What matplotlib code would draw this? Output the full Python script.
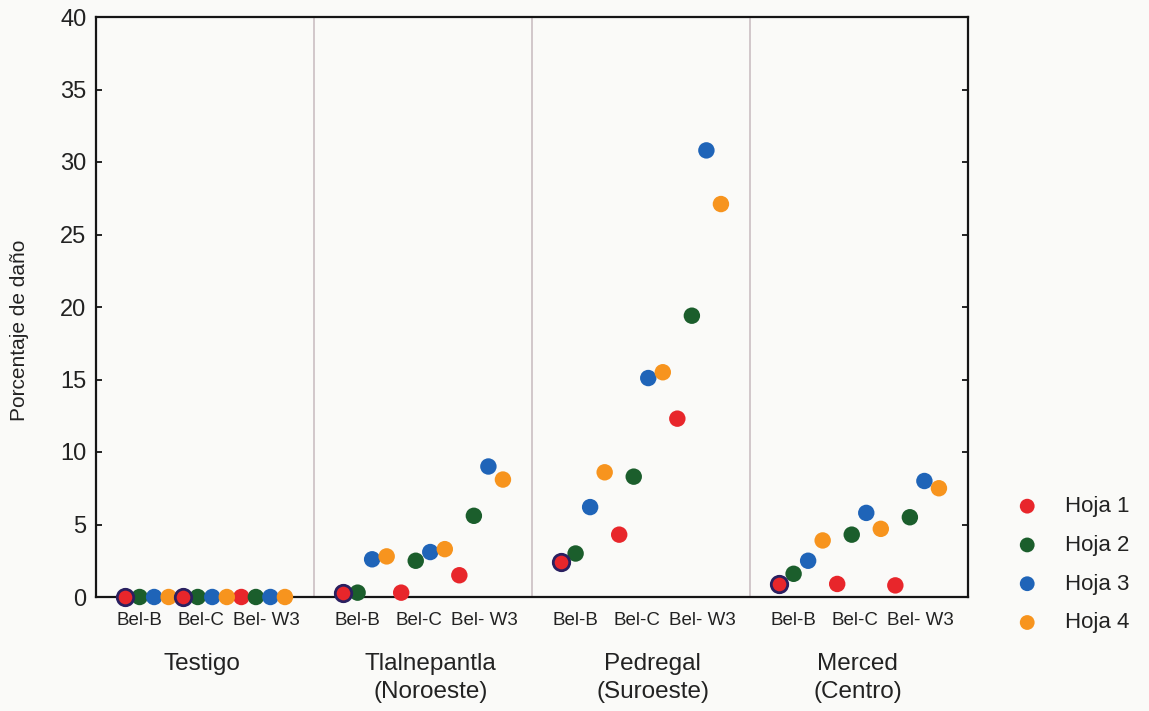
import matplotlib
matplotlib.use("Agg")
import matplotlib.pyplot as plt
import numpy as np

plt.rcParams['font.family'] = ['Liberation Sans', 'DejaVu Sans']

groups = ["Testigo", "Tlalnepantla\n(Noroeste)", "Pedregal\n(Suroeste)", "Merced\n(Centro)"]
cultivars = ["Bel-B", "Bel-C", "Bel- W3"]
leaves = ["Hoja 1", "Hoja 2", "Hoja 3", "Hoja 4"]
yticks = [0, 5, 10, 15, 20, 25, 30, 35, 40]

# values[leaf][group][cultivar]
hoja1 = [[0.0, 0.0, 0.0], [0.3, 0.3, 1.5], [2.4, 4.3, 12.3], [0.9, 0.9, 0.8]]
hoja2 = [[0.0, 0.0, 0.0], [0.3, 2.5, 5.6], [3.0, 8.3, 19.4], [1.6, 4.3, 5.5]]
hoja3 = [[0.0, 0.0, 0.0], [2.6, 3.1, 9.0], [6.2, 15.1, 30.8], [2.5, 5.8, 8.0]]
hoja4 = [[0.0, 0.0, 0.0], [2.8, 3.3, 8.1], [8.6, 15.5, 27.1], [3.9, 4.7, 7.5]]
series = [hoja1, hoja2, hoja3, hoja4]
colors = ["#e8262b", "#1b5e2c", "#1f64b8", "#f7941e"]

W, H = 1149, 711
fig = plt.figure(figsize=(W / 100, H / 100), dpi=100)
fig.patch.set_facecolor("#fafaf8")
ax = fig.add_axes([96 / W, 1 - 597 / H, (968 - 96) / W, (597 - 17) / H])
ax.set_facecolor("#fafaf8")

MS = 140
GW = 15  # group width in x units
for h, vals in enumerate(series):
    xs, ys = [], []
    for g in range(len(groups)):
        for c in range(len(cultivars)):
            xs.append(g * GW + 2 + 4 * c + h)
            ys.append(vals[g][c])
    ax.scatter(xs, ys, s=MS, color=colors[h], edgecolors="none", zorder=3 + h * 0.1,
               label=leaves[h], clip_on=False)
    if h == 0:
        # dark outline on first point (Bel-B, Hoja 1) of each group
        bx = [g * GW + 2 for g in range(len(groups))]
        by = [vals[g][0] for g in range(len(groups))]
        ax.scatter(bx, by, s=MS, facecolors=colors[0], edgecolors="#2a2060",
                   linewidths=2, zorder=5, clip_on=False)
ax.scatter([2 + 4], [hoja1[0][1]], s=MS, facecolors=colors[0], edgecolors="#2a2060",
           linewidths=2, zorder=5, clip_on=False)

ax.set_xlim(0, GW * len(groups))
ax.set_ylim(0, 40)
for g in range(1, len(groups)):
    ax.axvline(g * GW, color="#cbbfc2", lw=1.2, zorder=1)

ax.set_yticks(yticks)
ax.set_yticklabels([str(t) for t in yticks], fontsize=17)
ax.tick_params(axis="y", direction="in", length=4, width=1.2, right=True, pad=7,
               labelcolor="#222222")
ax.set_xticks([])
for s in ax.spines.values():
    s.set_linewidth(1.6)
    s.set_color("#151515")

fig.text(20 / W, 1 - 330 / H, "Porcentaje de daño", rotation=90, ha="center", va="center",
         fontsize=15, color="#222222")

label_off = [3.0, 7.2, 11.7]
group_off = [7.3, 8.0, 8.3, 7.4]
for g in range(len(groups)):
    for c, name in enumerate(cultivars):
        ax.text(g * GW + label_off[c], -1.65, name, ha="center", va="center", fontsize=13.5,
                color="#222222", clip_on=False)
    ax.text(g * GW + group_off[g], -3.85, groups[g], ha="center", va="top", fontsize=17.5,
            color="#222222", linespacing=1.38, clip_on=False)

leg = fig.legend(loc="upper left", bbox_to_anchor=(1005 / W, 1 - 496 / H), frameon=False,
                 fontsize=16, handletextpad=0.7, labelspacing=0.8, markerscale=0.9,
                 borderaxespad=0, borderpad=0)
for t in leg.get_texts():
    t.set_color("#222222")

fig.savefig("out.png", dpi=100, facecolor=fig.get_facecolor())
